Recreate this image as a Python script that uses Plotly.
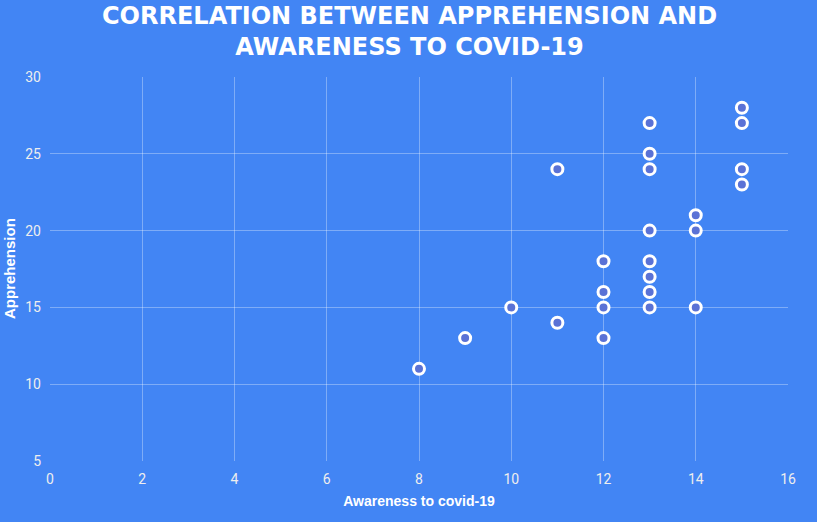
import plotly.graph_objects as go

awareness = [8, 9, 10, 11, 11, 12, 12, 12, 12,
             13, 13, 13, 13, 13, 13, 13, 13,
             14, 14, 14, 15, 15, 15, 15]
apprehension = [11, 13, 15, 24, 14, 18, 16, 15, 13,
                27, 25, 24, 20, 18, 17, 16, 15,
                21, 20, 15, 28, 27, 24, 23]

x_ticks = [0, 2, 4, 6, 8, 10, 12, 14, 16]
y_ticks = [5, 10, 15, 20, 25, 30]

bg = "#4285F4"
fig = go.Figure()
fig.add_trace(go.Scatter(
    x=awareness, y=apprehension, mode="markers",
    marker=dict(size=11, color="#5a72d6", line=dict(color="white", width=3)),
    showlegend=False,
))
grid = "rgba(255,255,255,0.32)"
fig.add_annotation(
    text="CORRELATION BETWEEN APPREHENSION AND<br>AWARENESS TO COVID-19",
    xref="paper", yref="paper", x=0.5, y=1, xshift=-10, yshift=77,
    xanchor="center", yanchor="top",
    showarrow=False, align="center",
    font=dict(family="DejaVu Sans", size=24, color="white", weight="bold"),
)
fig.add_annotation(
    text="<b>Apprehension</b>", textangle=-90,
    xref="paper", yref="paper", x=0, y=0.5, xshift=-41,
    xanchor="center", yanchor="middle", showarrow=False,
    font=dict(family="Liberation Sans", size=15, color="white"),
)
fig.update_layout(
    width=817, height=522,
    paper_bgcolor=bg, plot_bgcolor=bg,
    margin=dict(l=50, r=29, t=77, b=61),
    xaxis=dict(
        range=[0, 16], tickvals=x_ticks, showgrid=True, gridcolor=grid, gridwidth=1,
        zeroline=False, showline=False, ticks="", ticklabelstandoff=8,
        tickfont=dict(family="Roboto", size=14, color="#eeeeee"),
        title=dict(text="<b>Awareness to covid-19</b>", standoff=10,
                   font=dict(family="Liberation Sans", size=14, color="white")),
    ),
    yaxis=dict(
        range=[5, 30], tickvals=y_ticks, showgrid=True, gridcolor=grid, gridwidth=1,
        zeroline=False, showline=False, ticks="", ticklabelstandoff=8,
        tickfont=dict(family="Roboto", size=14, color="#eeeeee"),
    ),
)
fig.write_html("out.html")
